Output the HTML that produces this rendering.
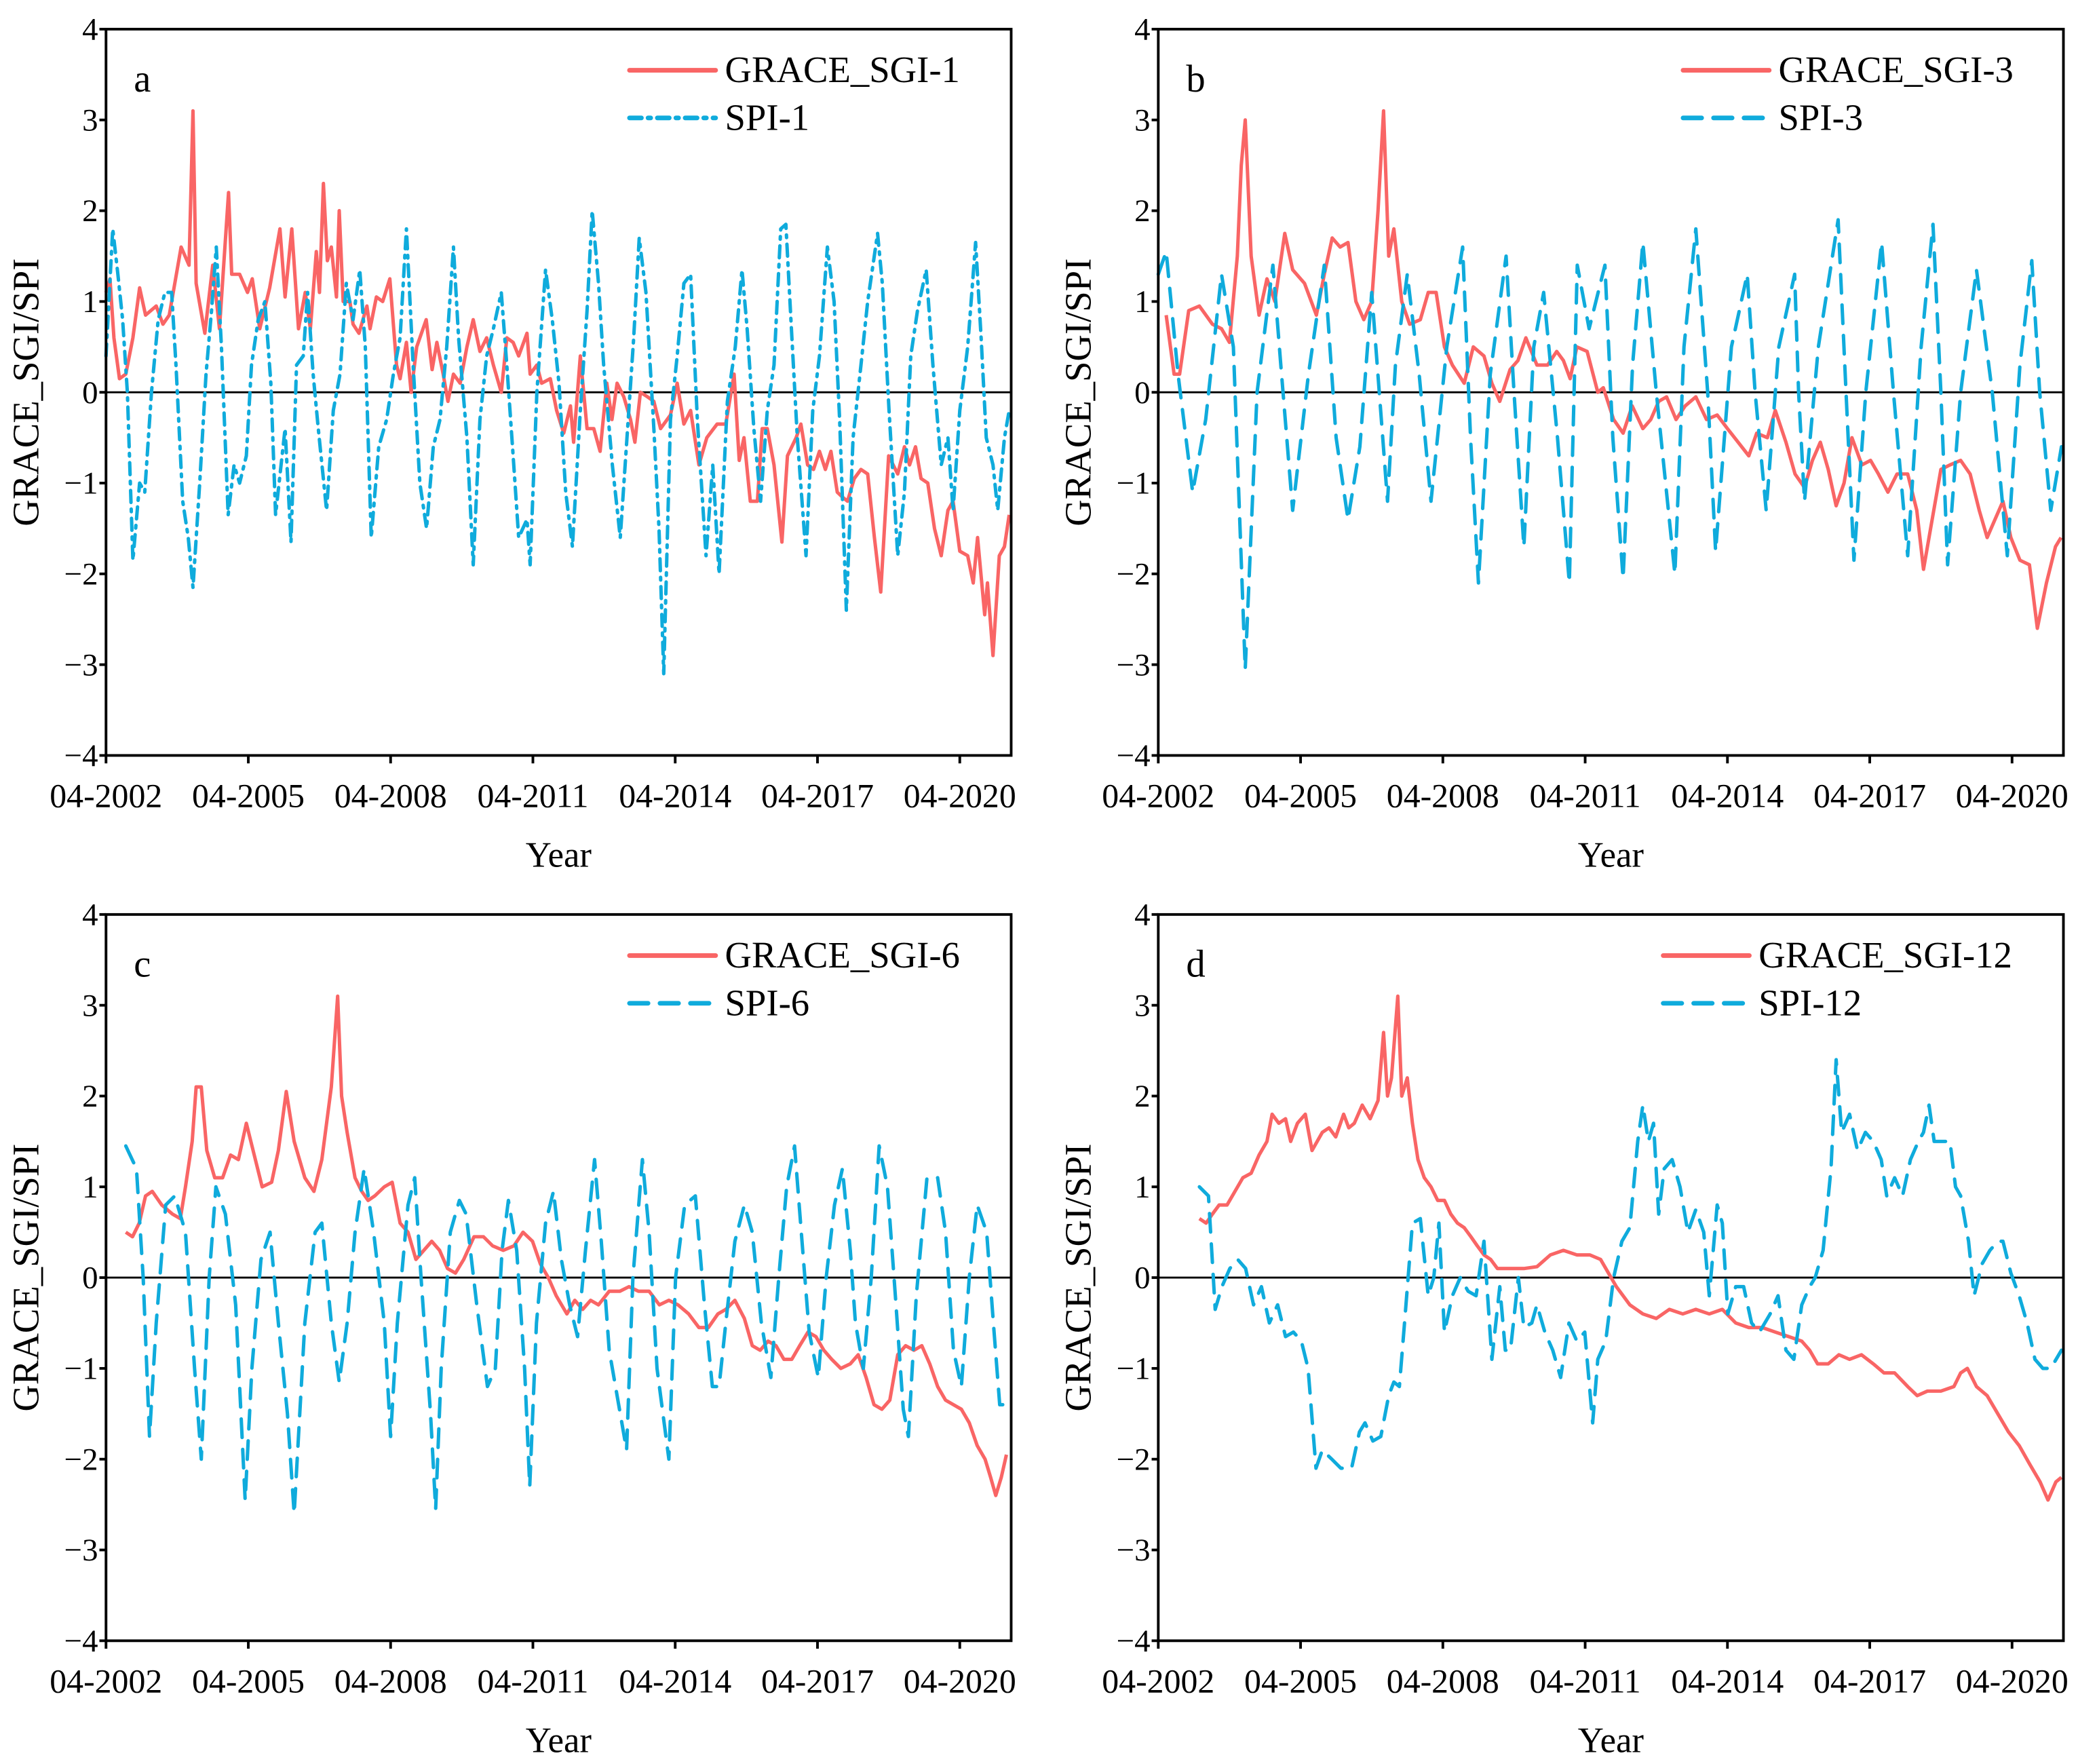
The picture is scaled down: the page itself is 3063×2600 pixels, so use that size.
<!DOCTYPE html>
<html><head><meta charset="utf-8"><style>
html,body{margin:0;padding:0;background:#fff;}
svg{display:block;}
text{font-family:"Liberation Serif",serif;fill:#000;}
</style></head><body>
<svg id="fig" width="3063" height="2600" viewBox="0 0 1568 1331" preserveAspectRatio="none" xmlns="http://www.w3.org/2000/svg"></svg>
<script>
// ---------- DATA (time in months since 04-2002, values unitless) ----------
const yTicks=[4,3,2,1,0,-1,-2,-3,-4];
const xTickLabels=["04-2002","04-2005","04-2008","04-2011","04-2014","04-2017","04-2020"];
const xTickMonths=[0,36,72,108,144,180,216];

const sgi1T=[0,1,2,3.4,5,6.8,8.5,10,12.7,14.4,16,19,21,22,22.8,25,27,28.7,31,31.8,33.8,35.8,37,38.9,41.4,44,45.3,47,48.7,50.4,51.7,53.2,54,55,56,57,58.3,59,60,61.7,62.5,64,66,66.8,68.4,70,71.8,73.5,74.4,76,77.2,78.6,81,82.5,83.7,85.3,86.5,87.9,89.6,91.3,92.9,94.6,96.3,98,100,101.4,103,104.4,106.5,107.3,109,110.2,112.4,114,115.8,117.5,118.3,120,121.7,123.4,125,126.7,128,129.3,131,132.7,133.8,135.2,137,138.6,140.3,142.8,144.5,146.2,147.9,150,152,154.6,156.8,158.9,160.2,161.4,163,164.8,166,167.3,169,171,172.4,174.6,175.8,177.5,179,180.5,182,183.4,185,186.2,187.6,189.3,191,192.7,194.4,196,198,200.3,202,203.3,204.8,206.2,207.9,209.6,211.3,213,214.3,216,218,219.4,220.5,222.3,223,224.4,226,227.3,228.5];
const sgi1V=[1.1,1.25,0.6,0.15,0.2,0.6,1.15,0.85,0.95,0.75,0.85,1.6,1.4,3.1,1.2,0.65,1.4,0.7,2.2,1.3,1.3,1.1,1.25,0.7,1.15,1.8,1.05,1.8,0.7,1.1,0.7,1.55,1.1,2.3,1.45,1.6,1.05,2.0,1.0,1.0,0.75,0.65,0.95,0.7,1.05,1.0,1.25,0.3,0.15,0.55,0.0,0.5,0.8,0.25,0.55,0.2,-0.1,0.2,0.1,0.5,0.8,0.45,0.6,0.3,0.0,0.6,0.55,0.4,0.65,0.2,0.3,0.1,0.15,-0.2,-0.45,-0.15,-0.55,0.4,-0.4,-0.4,-0.65,0.1,-0.3,0.1,-0.05,-0.3,-0.55,0.0,-0.05,-0.1,-0.4,-0.25,0.1,-0.35,-0.2,-0.8,-0.5,-0.35,-0.35,0.2,-0.75,-0.5,-1.2,-1.2,-0.4,-0.4,-0.8,-1.65,-0.7,-0.5,-0.35,-0.8,-0.85,-0.65,-0.85,-0.65,-1.1,-1.15,-1.2,-0.95,-0.85,-0.9,-1.6,-2.2,-0.7,-0.9,-0.6,-0.8,-0.6,-0.95,-1.0,-1.5,-1.8,-1.3,-1.2,-1.75,-1.8,-2.1,-1.6,-2.45,-2.1,-2.9,-1.8,-1.7,-1.35];

const spi1T=[0,1.7,3,4.2,5.4,6.8,8.5,9.8,11.5,13.2,14.9,16.6,17.7,19.4,20.8,22,23.7,25.3,26.7,27.9,29.2,30.9,32.4,33.8,35.5,36.8,38.5,40.2,41.7,42.9,45.3,46.8,48.2,49.9,51,52.4,53.7,55.8,57.5,59.2,60.8,62.5,64.2,65.6,67.1,69,71,72.7,74.4,76,77.7,79.4,81.1,82.8,84.5,86.2,87.9,89.2,91.3,92.9,94.6,96.3,98,100,101.4,103,104.4,106.5,107.3,109,111.2,112.9,114.6,116.3,118,120,121.7,123,124.6,125.9,128.1,130.1,131.8,133.5,134.9,136.6,138.6,139.9,141.1,142.8,144.5,146.2,147.9,149.6,151.8,153.5,155.1,157.2,159.2,160.9,162.2,163.9,165.6,167.3,169,170.7,172,173.4,174.9,177.1,178.8,180.5,182.5,184.2,185.6,187.3,189,191,192.7,195.2,196.4,198.1,200.3,202,203.6,205.3,207.5,209.2,211.3,213,214.3,216,218,220,221.4,222.7,224.4,225.6,227.3,228.5];
const spi1V=[0.4,1.8,1.3,0.8,0.0,-1.85,-1.0,-1.1,0.0,0.8,1.1,1.1,0.3,-1.2,-1.6,-2.15,-1.0,0.2,0.9,1.6,0.5,-1.35,-0.8,-1.0,-0.7,0.3,0.8,1.0,0.1,-1.35,-0.4,-1.65,0.3,0.4,1.1,0.2,-0.4,-1.3,-0.2,0.2,1.2,0.8,1.35,0.5,-1.6,-0.6,-0.3,0.2,0.6,1.8,0.3,-1.0,-1.5,-0.6,-0.3,0.5,1.6,0.6,-0.5,-1.9,-0.3,0.4,0.7,1.1,0.3,-0.7,-1.6,-1.4,-1.9,0.0,1.35,0.8,0.1,-1.1,-1.7,-0.2,0.9,2.0,1.2,0.3,-0.8,-1.6,-0.5,0.6,1.7,1.1,-0.4,-1.5,-3.1,-0.3,0.4,1.2,1.3,-0.3,-1.8,-0.8,-2.0,-0.1,0.5,1.35,0.7,-0.4,-1.2,-0.2,0.3,1.8,1.85,0.7,-0.5,-1.8,-0.2,0.4,1.6,1.0,-0.3,-2.4,-0.5,0.3,1.0,1.75,1.2,-0.2,-1.8,-1.1,0.4,0.9,1.35,0.3,-0.8,-0.5,-1.3,-0.2,0.5,1.65,0.6,-0.5,-0.8,-1.3,-0.5,-0.2];

const sgi3T=[2,4,5.4,7.7,10.4,13.7,16,18,20,21,22,23.5,25.5,27.5,29.5,32,34,37,40,42,44,46,48,50,52,54,55.6,57,58.3,59.6,61.6,63.6,66.3,68.3,70.3,72.4,74.4,77.4,79.7,82.4,84.4,86.4,89,91,93,95.8,98.5,100.8,102.5,104.2,105.9,108.5,111.2,112.6,115.2,117.6,119.9,122.6,124.6,126.6,128.6,131,133.3,136,138.7,141.4,144,146.7,149.4,151.4,154.1,156.1,158.8,161.1,163.5,165.5,167.5,169.5,171.5,173.5,175.5,178,180.2,182.2,184.6,186.9,189.6,191.9,193.6,195.6,198,200.3,203,205.4,207.7,209.7,211.7,213.7,215.7,218,220.4,222.4,224.7,227,228.4];
const sgi3V=[0.85,0.2,0.2,0.9,0.95,0.75,0.7,0.55,1.5,2.5,3.0,1.5,0.85,1.25,1.0,1.75,1.35,1.2,0.85,1.3,1.7,1.6,1.65,1.0,0.8,1.0,2.0,3.1,1.5,1.8,1.0,0.75,0.8,1.1,1.1,0.5,0.3,0.1,0.5,0.4,0.1,-0.1,0.25,0.35,0.6,0.3,0.3,0.45,0.35,0.15,0.5,0.45,0.0,0.05,-0.3,-0.45,-0.15,-0.4,-0.3,-0.1,-0.05,-0.3,-0.15,-0.05,-0.3,-0.25,-0.4,-0.55,-0.7,-0.45,-0.5,-0.2,-0.55,-0.9,-1.05,-0.75,-0.55,-0.85,-1.25,-1.0,-0.5,-0.8,-0.75,-0.9,-1.1,-0.9,-0.9,-1.3,-1.95,-1.45,-0.85,-0.8,-0.75,-0.9,-1.3,-1.6,-1.4,-1.2,-1.6,-1.85,-1.9,-2.6,-2.1,-1.7,-1.6];

const spi3T=[0,2,5,8.7,12,16,19,22,25,29,31,34,38,42,45,48,51,54,58,60,63,66,69,73,77,79,81,84,88,90,92.5,95,97.5,101,104,106,109,113,115,117.6,120,122.6,126,130.7,133,136,139,141,145,149,151,153.8,157,161,162,163.5,167,172,174,176,179,183,186,189.6,193,196,198,199.7,203,207,211,214.8,218,221,223,225.8,228.5];
const spi3V=[1.3,1.55,0.2,-1.1,-0.3,1.3,0.5,-3.05,0.0,1.4,0.3,-1.3,0.2,1.4,-0.5,-1.4,-0.6,1.1,-1.2,0.3,1.3,0.2,-1.2,0.5,1.6,-0.5,-2.1,0.2,1.5,0.0,-1.7,0.5,1.1,-0.5,-2.1,1.4,0.7,1.4,-0.5,-2.05,0.3,1.65,0.0,-2.0,0.5,1.8,0.0,-1.75,0.5,1.3,0.0,-1.3,0.5,1.3,0.0,-1.2,0.5,1.9,0.0,-1.85,0.0,1.65,0.0,-1.8,0.5,1.85,0.0,-1.9,0.0,1.35,0.0,-1.8,0.3,1.45,0.0,-1.3,-0.6];

const sgi6T=[5,6.7,8.4,10,11.7,14.1,16.8,18.8,20.1,21.8,22.8,24.1,25.5,27.5,29.5,31.5,33.5,35.5,37.5,39.5,41.9,43.6,45.6,47.6,50.3,52.6,54.6,57,58.6,59.6,61,63,64.7,66.3,68,70.4,72.4,74.4,76.4,78.4,80.4,82.4,84.4,86.4,88.4,90.5,93.1,95.5,97.8,100.5,103.2,105.5,107.9,109.9,111.9,113.9,116.6,118.6,120.6,122.6,124.6,127.3,130,132.3,134.7,137.4,140,142.4,144.7,147.4,150,152.4,154.8,156.8,159.1,161.5,163.5,165.5,167.5,169.5,171.5,173.5,175.5,177.6,179.6,181.6,183.6,185.9,188.3,190.3,192.3,194.3,196.3,198.3,200.3,202.3,204.4,206.4,208.4,210.4,212.4,214.4,216.4,218.4,220.4,222.4,223.8,225.1,226.5,227.8];
const sgi6V=[0.5,0.45,0.6,0.9,0.95,0.8,0.7,0.65,1.0,1.5,2.1,2.1,1.4,1.1,1.1,1.35,1.3,1.7,1.35,1.0,1.05,1.4,2.05,1.5,1.1,0.95,1.3,2.1,3.1,2.0,1.6,1.1,0.95,0.85,0.9,1.0,1.05,0.6,0.5,0.2,0.3,0.4,0.3,0.1,0.05,0.2,0.45,0.45,0.35,0.3,0.35,0.5,0.4,0.15,0.0,-0.2,-0.4,-0.25,-0.35,-0.25,-0.3,-0.15,-0.15,-0.1,-0.15,-0.15,-0.3,-0.25,-0.3,-0.4,-0.55,-0.55,-0.4,-0.35,-0.25,-0.45,-0.75,-0.8,-0.7,-0.75,-0.9,-0.9,-0.75,-0.6,-0.65,-0.8,-0.9,-1.0,-0.95,-0.85,-1.1,-1.4,-1.45,-1.35,-0.85,-0.75,-0.8,-0.75,-0.95,-1.2,-1.35,-1.4,-1.45,-1.6,-1.85,-2.0,-2.2,-2.4,-2.2,-1.95];

const spi6T=[5,7.7,9.4,11,12.7,15.1,17.4,20.1,22.4,24.1,26.1,27.8,30.2,32.8,35.2,36.9,39.2,41.5,43.6,45.9,47.6,50.3,52.9,54.6,57,59,61,63,65.3,67.7,70.4,72,73.7,76.4,78.1,79.7,82.1,83.4,84.8,87.1,89.4,91.1,93.8,96.5,98.5,100.2,101.8,103.9,105.9,107.2,108.9,111.2,113.2,115.2,117.3,119.3,121.3,123.6,125.3,127.3,129.3,131.7,133.3,135.7,137.4,139.4,142.4,144.1,146.4,149.1,151.4,153.4,155.1,156.8,159.1,161.5,163.5,165.8,168.2,170.2,172.2,174.2,175.9,177.9,180.2,182.2,184.3,186.3,188.3,189.6,191.6,193.6,195.6,197.7,199.7,201.7,203,205,207.7,210.4,212.4,214.4,216.4,218.4,220.4,222.8,224.5,226.1,227.8];
const spi6V=[1.45,1.2,0.0,-1.75,-0.5,0.8,0.9,0.5,-1.0,-2.0,0.0,1.0,0.7,-0.3,-2.45,-1.0,0.2,0.5,-0.5,-1.5,-2.6,-0.5,0.5,0.6,-0.5,-1.15,-0.5,0.5,1.2,0.5,-0.5,-1.75,-0.5,0.8,1.1,0.0,-1.5,-2.55,-1.0,0.5,0.85,0.7,-0.3,-1.2,-1.0,0.3,0.85,0.3,-1.0,-2.3,-0.5,0.6,0.95,0.2,-0.3,-0.65,0.3,1.3,0.4,-0.8,-1.3,-1.9,0.0,1.3,0.5,-1.0,-2.0,0.0,0.8,0.9,-0.3,-1.2,-1.2,-0.5,0.4,0.8,0.5,-0.5,-1.1,0.0,1.0,1.45,0.5,-0.6,-1.1,0.0,0.8,1.2,0.3,-0.5,-1.0,0.0,1.45,1.0,-0.2,-1.45,-1.75,-0.2,1.1,1.1,0.5,-0.8,-1.2,0.0,0.8,0.5,-0.5,-1.4,-1.4];

const sgi12T=[10.4,12.1,13.7,15.4,17.4,19.4,21.4,23.5,25.5,27.5,28.8,30.5,32.2,33.5,35.2,37.2,38.9,40.2,41.5,43.2,44.9,46.9,48.2,49.6,51.6,53.6,55.6,57,58,59,60.6,61.6,63,64.3,65.7,67.3,69,70.7,72.4,74,75.7,77.4,79.1,80.7,82.4,84.1,85.8,89.1,92.5,95.8,99.2,102.5,105.9,109.2,111.9,113.9,115.9,119.3,122.6,126,129.3,132.7,136,139.4,142.7,146.1,149.4,152.8,156.1,159.5,162.8,164.8,166.8,169.5,172.2,174.9,177.9,180.9,183.6,186.3,189.6,192,194.6,198,201.3,203,204.7,207,209.7,212.4,215.1,217.8,220.4,223.1,225.1,227.1,228.5];
const sgi12V=[0.65,0.6,0.7,0.8,0.8,0.95,1.1,1.15,1.35,1.5,1.8,1.7,1.75,1.5,1.7,1.8,1.4,1.5,1.6,1.65,1.55,1.8,1.65,1.7,1.9,1.75,1.95,2.7,2.0,2.2,3.1,2.0,2.2,1.7,1.3,1.1,1.0,0.85,0.85,0.7,0.6,0.55,0.45,0.35,0.25,0.2,0.1,0.1,0.1,0.12,0.25,0.3,0.25,0.25,0.2,0.05,-0.1,-0.3,-0.4,-0.45,-0.35,-0.4,-0.35,-0.4,-0.35,-0.5,-0.55,-0.55,-0.6,-0.65,-0.7,-0.8,-0.95,-0.95,-0.85,-0.9,-0.85,-0.95,-1.05,-1.05,-1.2,-1.3,-1.25,-1.25,-1.2,-1.05,-1.0,-1.2,-1.3,-1.5,-1.7,-1.85,-2.05,-2.25,-2.45,-2.25,-2.2];

const spi12T=[10.4,12.7,14.4,16.1,18.1,20.1,22.1,24.1,26.1,28.1,30.2,32.2,34.2,36.2,37.9,39.9,41.5,43.9,46.2,48.9,50.9,52.3,54.3,56.3,58.3,59.6,61,62.3,64.3,66.3,68.3,69.7,71,72.4,74.4,76.4,78.4,80.4,82.4,84.4,86.4,87.8,89.1,91.1,92.5,94.5,95.8,97.8,99.8,101.8,103.9,105.9,107.9,109.9,111.2,113.2,115.2,117.3,119.3,121.3,122.6,124,125.3,126.6,128,130,132,134,136,138,139.4,141.4,142.7,144.1,146.1,148.1,150.1,152.1,154.8,156.8,158.8,160.8,162.8,164.8,166.2,168.2,170.2,171.5,172.9,174.9,176.9,178.9,180.9,182.9,184.3,186.3,188.3,190.3,192.3,193.6,195,196.3,198.3,200.3,201.7,203,205,206.4,208.4,210.4,212.4,213.7,215.7,217.8,219.8,221.8,223.8,225.8,228.5];
const spi12V=[1.0,0.9,-0.35,-0.1,0.1,0.2,0.1,-0.3,-0.1,-0.5,-0.3,-0.65,-0.6,-0.7,-1.0,-2.1,-1.9,-2.0,-2.1,-2.1,-1.7,-1.6,-1.8,-1.75,-1.3,-1.15,-1.2,-0.5,0.6,0.65,-0.2,0.0,0.6,-0.6,-0.2,0.0,-0.15,-0.2,0.4,-0.9,-0.1,-0.8,-0.8,0.0,-0.55,-0.5,-0.3,-0.6,-0.8,-1.1,-0.5,-0.7,-0.6,-1.6,-0.9,-0.7,0.0,0.4,0.55,1.5,1.9,1.5,1.7,0.7,1.2,1.3,1.0,0.5,0.75,0.5,-0.2,0.8,0.6,-0.4,-0.1,-0.1,-0.5,-0.6,-0.4,-0.2,-0.8,-0.9,-0.3,-0.1,0.0,0.3,1.2,2.4,1.6,1.8,1.4,1.6,1.5,1.3,0.9,1.1,0.9,1.3,1.5,1.6,1.9,1.5,1.5,1.5,1.0,0.9,0.4,-0.2,0.15,0.3,0.4,0.4,0.05,-0.2,-0.5,-0.9,-1.0,-1.0,-0.8];

// ---------- DRAWING ----------
const NS="http://www.w3.org/2000/svg";
const svg=document.getElementById('fig');
const RED="#f96565", CYAN="#0fabdc";
function mk(tag,attrs,parent){const e=document.createElementNS(NS,tag);for(const k in attrs)e.setAttribute(k,attrs[k]);(parent||svg).appendChild(e);return e;}

const panels=[
 {id:'a',x0:80,x1:763,y0:22,y1:570,letter:'a',lx:475,sgiT:sgi1T,sgiV:sgi1V,spiT:spi1T,spiV:spi1V,n1:'GRACE_SGI-1',n2:'SPI-1',dash:'9 5 2 5'},
 {id:'b',x0:874,x1:1557,y0:22,y1:570,letter:'b',lx:1270,sgiT:sgi3T,sgiV:sgi3V,spiT:spi3T,spiV:spi3V,n1:'GRACE_SGI-3',n2:'SPI-3',dash:'14 9'},
 {id:'c',x0:80,x1:763,y0:690,y1:1238,letter:'c',lx:475,sgiT:sgi6T,sgiV:sgi6V,spiT:spi6T,spiV:spi6V,n1:'GRACE_SGI-6',n2:'SPI-6',dash:'14 9'},
 {id:'d',x0:874,x1:1557,y0:690,y1:1238,letter:'d',lx:1255,sgiT:sgi12T,sgiV:sgi12V,spiT:spi12T,spiV:spi12V,n1:'GRACE_SGI-12',n2:'SPI-12',dash:'14 9'}
];
const MAXM=229;

panels.forEach(p=>{
  const g=mk('g',{});
  
  
  const xs=m=>p.x0+(m/MAXM)*(p.x1-p.x0);
  const ys=v=>p.y0+(4-v)/8*(p.y1-p.y0);
  const z=mk('line',{x1:p.x0,x2:p.x1,y1:ys(0),y2:ys(0),stroke:'#000','stroke-width':1.5},g);
  
  
  const pts=(T,V)=>T.map((t,i)=>xs(t).toFixed(2)+','+ys(V[i]).toFixed(2)).join(' ');
  const r=mk('polyline',{points:pts(p.sgiT,p.sgiV),fill:'none',stroke:RED,'stroke-width':2.6,'stroke-linejoin':'round'},g);
  
  
  const c=mk('polyline',{points:pts(p.spiT,p.spiV),fill:'none',stroke:CYAN,'stroke-width':2.6,'stroke-dasharray':p.dash,'stroke-linecap':'round','stroke-linejoin':'round'},g);
  
  
  const f=mk('rect',{x:p.x0,y:p.y0,width:p.x1-p.x0,height:p.y1-p.y0,fill:'none',stroke:'#000','stroke-width':2},g);
  
  
  yTicks.forEach(v=>{
    mk('line',{x1:p.x0-5,x2:p.x0,y1:ys(v),y2:ys(v),stroke:'#000','stroke-width':2},g);
    const t=mk('text',{x:p.x0-6,y:ys(v)+8,'text-anchor':'end','font-size':24},g);
    t.textContent=v<0?'\u2212'+(-v):String(v);
    
    
  });
  xTickMonths.forEach((m,i)=>{
    mk('line',{x1:xs(m),x2:xs(m),y1:p.y1,y2:p.y1+6,stroke:'#000','stroke-width':2},g);
    const t=mk('text',{x:xs(m),y:p.y1+39,'text-anchor':'middle','font-size':25.5},g);
    t.textContent=xTickLabels[i];
    
    
  });
  const xt=mk('text',{x:(p.x0+p.x1)/2,y:p.y1+84,'text-anchor':'middle','font-size':27},g);
  xt.textContent='Year';
  
  
  const cy=(p.y0+p.y1)/2, tx=p.x0-51;
  const yt=mk('text',{x:tx,y:cy,'text-anchor':'middle','font-size':28,transform:'rotate(-90 '+tx+' '+cy+')'},g);
  yt.textContent='GRACE_SGI/SPI';
  
  
  const lt=mk('text',{x:p.x0+21,y:p.y0+47,'font-size':29},g);
  lt.textContent=p.letter;
  
  
  const lg=mk('g',{},g);
  
  
  mk('line',{x1:p.lx,x2:p.lx+65,y1:p.y0+31,y2:p.y0+31,stroke:RED,'stroke-width':3.5,'stroke-linecap':'round'},lg);
  const t1=mk('text',{x:p.lx+72,y:p.y0+40,'font-size':28},lg);
  t1.textContent=p.n1;
  
  
  mk('line',{x1:p.lx,x2:p.lx+65,y1:p.y0+67,y2:p.y0+67,stroke:CYAN,'stroke-width':3.5,'stroke-dasharray':p.dash,'stroke-linecap':'round'},lg);
  const t2=mk('text',{x:p.lx+72,y:p.y0+76,'font-size':28},lg);
  t2.textContent=p.n2;
  
  
});
</script>
</body></html>
